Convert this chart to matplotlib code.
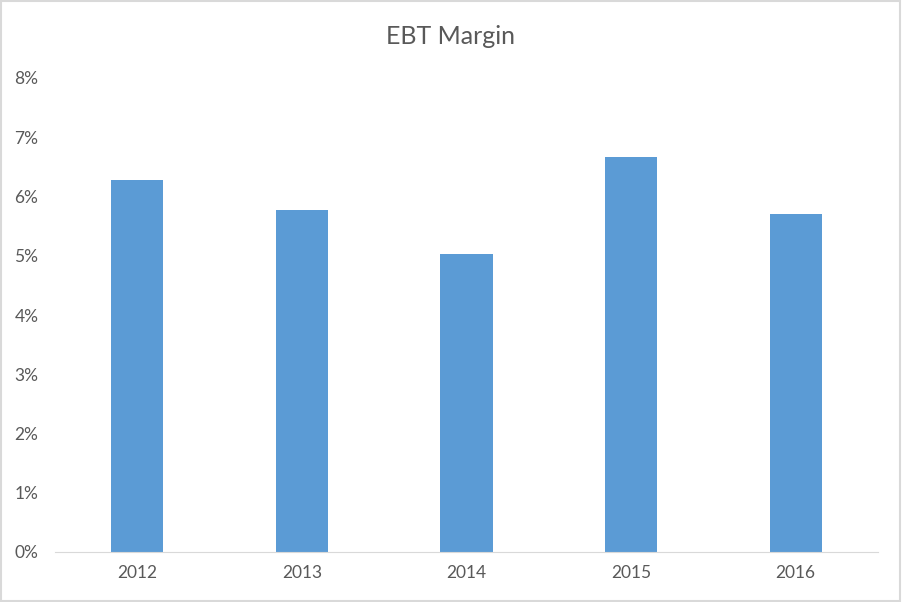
import matplotlib
matplotlib.use("Agg")
import matplotlib.pyplot as plt
from matplotlib.ticker import FuncFormatter
from matplotlib.patches import Rectangle

# data
years = ["2012", "2013", "2014", "2015", "2016"]
ebt_margin = [0.0628, 0.0577, 0.0503, 0.0667, 0.0570]

plt.rcParams["font.family"] = ["Lato", "DejaVu Sans"]
grey = "#595959"

fig = plt.figure(figsize=(9.02, 6.02), dpi=100)
ax = fig.add_axes([55 / 902, 50 / 602, 823 / 902, 474 / 602])

ax.bar(years, ebt_margin, width=0.316, color="#5B9BD5")

ax.set_ylim(0, 0.08)
ax.set_xlim(-0.5, len(years) - 0.5)
ax.set_yticks([i / 100 for i in range(9)])
ax.yaxis.set_major_formatter(FuncFormatter(lambda v, p: f"{v * 100:.0f}%"))

for s in ["top", "right", "left"]:
    ax.spines[s].set_visible(False)
ax.spines["bottom"].set_color("#D9D9D9")
ax.tick_params(axis="both", length=0, colors=grey, labelsize=12.5)
ax.tick_params(axis="y", pad=12)
ax.tick_params(axis="x", pad=9)

fig.text(0.5, 1 - 37 / 602, "EBT Margin", ha="center", va="center",
         fontsize=18, color=grey)

# light grey frame round the chart
fig.patches.append(Rectangle((0.001, 0.002), 0.997, 0.996, transform=fig.transFigure,
                             fill=False, edgecolor="#D9D9D9", linewidth=1.5))

fig.savefig("out.png", dpi=100)
